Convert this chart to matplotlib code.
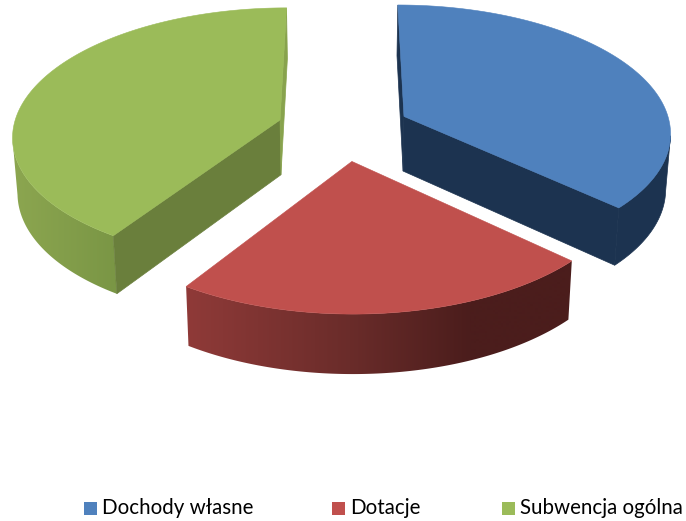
import numpy as np
import matplotlib
matplotlib.use("Agg")
import matplotlib.pyplot as plt
from matplotlib.patches import Polygon, Rectangle
from matplotlib.colors import to_rgb

categories = ["Dochody własne", "Dotacje", "Subwencja ogólna"]
values = [36.9, 22.3, 40.8]
top_colors = ["#4F81BD", "#C0504D", "#9BBB59"]
cut_colors = ["#1C3350", "#4B1D1C", "#6A7F3C"]
# rim shading from left to right: (x position, colour). blue rim is flat
rim_stops = [
    None,
    [(188, "#8F3A38"), (350, "#6A2C2A"), (470, "#4B1D1C"), (570, "#4B1D1C")],
    [(12, "#8CA650"), (116, "#7A9645"), (290, "#88A34D")],
]
legend_x = [84, 332, 502]

start_angle = 0.0   # degrees clockwise from the top
explode = 0.25
cx, cy = 343.5, 129
a, b, k = 267, 127, 0.115
z_shrink = 0.985

plt.rcParams["font.family"] = ["Lato", "DejaVu Sans"]

fig = plt.figure(figsize=(6.86, 5.21), dpi=100)
ax = fig.add_axes([0, 0, 1, 1])


def project(u, v, bottom=False):
    s = 1 / (1 - k * v)
    x = a * u * s
    y = b * v * s
    if bottom:
        return cx + x * z_shrink, cy + y + 55 + 4 * v
    return cx + x, cy + y


shares = np.array(values) / sum(values) * 360
edges = start_angle + np.concatenate([[0], np.cumsum(shares)])

for i in range(len(values)):
    t0, t1 = np.radians(edges[i]), np.radians(edges[i + 1])
    mid = (t0 + t1) / 2
    ou, ov = explode * np.sin(mid), -explode * np.cos(mid)
    t = np.linspace(t0, t1, 200)
    u = ou + np.sin(t)
    v = ov - np.cos(t)
    xt, yt = project(u, v)
    xb, yb = project(u, v, bottom=True)

    # outer rim, starts where the top outline is widest on screen
    front = np.cos(t) < -0.15
    rim = np.vstack([np.column_stack([xt[front], yt[front]]),
                     np.column_stack([xb[front], yb[front]])[::-1]])
    if rim_stops[i] is None:
        ax.add_patch(Polygon(rim, facecolor=cut_colors[i], edgecolor=cut_colors[i], linewidth=0.5, zorder=2))
    else:
        xs = np.arange(0, 687)
        stop_x = [p[0] for p in rim_stops[i]]
        stop_c = np.array([to_rgb(p[1]) for p in rim_stops[i]])
        grad = np.stack([np.interp(xs, stop_x, stop_c[:, c]) for c in range(3)], axis=-1)[None, :, :]
        im = ax.imshow(grad, extent=(0, 686, 521, 0), aspect="auto", zorder=2, interpolation="bilinear")
        clip = Polygon(rim, transform=ax.transData, facecolor="none", edgecolor="none")
        ax.add_patch(clip)
        im.set_clip_path(clip)

    # the two cut faces, the green one at the back is lighter. red ones stay hidden
    ax_t, ay_t = project(ou, ov)
    ax_b, ay_b = project(ou, ov, bottom=True)
    if i != 1:
        for j in (0, -1):
            col = "#88A34D" if (i == 2 and j == -1) else cut_colors[i]
            ax.add_patch(Polygon([(ax_t, ay_t), (xt[j], yt[j]), (xb[j], yb[j]), (ax_b, ay_b)],
                                 facecolor=col, edgecolor=col, linewidth=0.5, zorder=3))

    # top surface
    ax.add_patch(Polygon(np.vstack([[ax_t, ay_t], np.column_stack([xt, yt])]),
                         facecolor=top_colors[i], edgecolor=top_colors[i], linewidth=0.4, zorder=4))

for name, col, lx in zip(categories, top_colors, legend_x):
    ax.add_patch(Rectangle((lx, 502), 13, 13, facecolor=col, edgecolor="none"))
    ax.text(lx + 18, 508, name, fontsize=14.8, color="#000000", va="center", ha="left")

ax.set_xlim(0, 686)
ax.set_ylim(521, 0)
ax.axis("off")

fig.savefig("out.png", dpi=100)
